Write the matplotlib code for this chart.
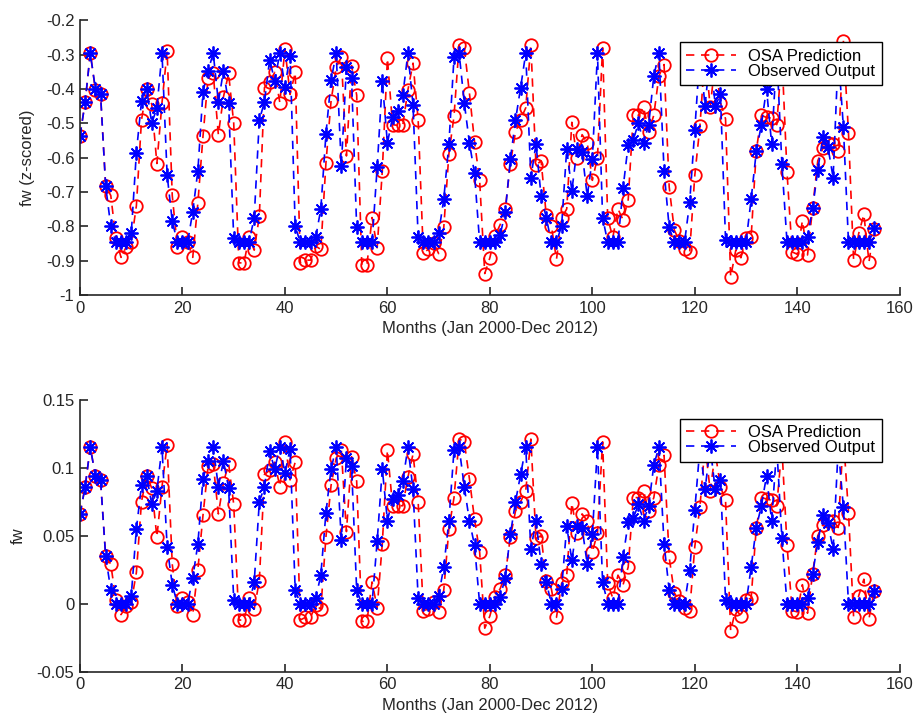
import numpy as np
import matplotlib
matplotlib.use('Agg')
from matplotlib import pyplot as plt

plt.rcParams['font.family'] = ['Liberation Sans', 'DejaVu Sans']

months = np.arange(156)

# fw (z-scored)
osa_z = [-0.536, -0.438, -0.296, -0.402, -0.414, -0.682, -0.710, -0.835, -0.890, -0.860,
         -0.845, -0.740, -0.490, -0.400, -0.445, -0.617, -0.440, -0.290, -0.710, -0.860,
         -0.830, -0.844, -0.890, -0.732, -0.538, -0.367, -0.355, -0.533, -0.423, -0.355,
         -0.500, -0.906, -0.906, -0.830, -0.869, -0.770, -0.396, -0.380, -0.352, -0.440,
         -0.283, -0.416, -0.352, -0.906, -0.898, -0.898, -0.857, -0.867, -0.615, -0.435,
         -0.337, -0.308, -0.595, -0.332, -0.418, -0.913, -0.913, -0.774, -0.862, -0.639,
         -0.311, -0.504, -0.506, -0.506, -0.403, -0.325, -0.490, -0.876, -0.867, -0.847,
         -0.879, -0.803, -0.589, -0.479, -0.272, -0.280, -0.411, -0.553, -0.666, -0.937,
         -0.891, -0.827, -0.795, -0.749, -0.617, -0.525, -0.489, -0.455, -0.271, -0.622,
         -0.609, -0.767, -0.798, -0.896, -0.776, -0.749, -0.497, -0.600, -0.533, -0.556,
         -0.666, -0.600, -0.280, -0.776, -0.832, -0.749, -0.781, -0.722, -0.476, -0.477,
         -0.452, -0.525, -0.476, -0.362, -0.329, -0.685, -0.811, -0.842, -0.865, -0.874,
         -0.651, -0.509, -0.290, -0.453, -0.320, -0.440, -0.487, -0.947, -0.869, -0.891,
         -0.835, -0.830, -0.580, -0.477, -0.483, -0.485, -0.504, -0.300, -0.643, -0.874,
         -0.881, -0.783, -0.883, -0.747, -0.609, -0.573, -0.556, -0.560, -0.580, -0.260,
         -0.528, -0.898, -0.820, -0.765, -0.903, -0.806]

obs_z = [-0.536, -0.438, -0.296, -0.400, -0.414, -0.682, -0.800, -0.846, -0.846, -0.846,
         -0.820, -0.585, -0.435, -0.400, -0.500, -0.455, -0.296, -0.650, -0.785, -0.846,
         -0.846, -0.846, -0.757, -0.638, -0.408, -0.347, -0.296, -0.438, -0.347, -0.442,
         -0.835, -0.846, -0.846, -0.846, -0.774, -0.490, -0.438, -0.315, -0.376, -0.296,
         -0.393, -0.303, -0.800, -0.846, -0.846, -0.846, -0.832, -0.749, -0.531, -0.375,
         -0.296, -0.625, -0.337, -0.369, -0.803, -0.846, -0.846, -0.846, -0.628, -0.378,
         -0.558, -0.482, -0.465, -0.418, -0.296, -0.447, -0.832, -0.846, -0.846, -0.846,
         -0.820, -0.720, -0.560, -0.308, -0.296, -0.440, -0.556, -0.646, -0.846, -0.846,
         -0.846, -0.846, -0.825, -0.759, -0.604, -0.491, -0.396, -0.296, -0.658, -0.560,
         -0.712, -0.774, -0.846, -0.846, -0.798, -0.575, -0.697, -0.575, -0.584, -0.712,
         -0.604, -0.296, -0.774, -0.846, -0.846, -0.846, -0.688, -0.562, -0.548, -0.499,
         -0.556, -0.504, -0.362, -0.296, -0.638, -0.803, -0.846, -0.846, -0.846, -0.730,
         -0.519, -0.296, -0.450, -0.296, -0.450, -0.416, -0.838, -0.846, -0.846, -0.846,
         -0.846, -0.720, -0.582, -0.504, -0.399, -0.560, -0.296, -0.619, -0.846, -0.846,
         -0.846, -0.846, -0.830, -0.747, -0.636, -0.540, -0.570, -0.658, -0.296, -0.510,
         -0.846, -0.846, -0.846, -0.846, -0.846, -0.805]

# fw
osa_fw = [0.066, 0.086, 0.115, 0.094, 0.091, 0.035, 0.029, 0.003, -0.008, -0.002,
          0.001, 0.023, 0.075, 0.094, 0.085, 0.049, 0.086, 0.117, 0.029, -0.002,
          0.004, 0.001, -0.008, 0.025, 0.065, 0.101, 0.103, 0.066, 0.089, 0.103,
          0.073, -0.012, -0.012, 0.004, -0.004, 0.017, 0.095, 0.098, 0.104, 0.086,
          0.119, 0.091, 0.104, -0.012, -0.010, -0.010, -0.001, -0.004, 0.049, 0.087,
          0.107, 0.113, 0.053, 0.108, 0.090, -0.013, -0.013, 0.016, -0.003, 0.044,
          0.113, 0.072, 0.072, 0.072, 0.093, 0.110, 0.075, -0.005, -0.004, 0.001,
          -0.006, 0.010, 0.055, 0.078, 0.121, 0.119, 0.092, 0.062, 0.038, -0.018,
          -0.009, 0.005, 0.011, 0.021, 0.049, 0.068, 0.075, 0.083, 0.121, 0.048,
          0.050, 0.017, 0.011, -0.010, 0.015, 0.021, 0.074, 0.052, 0.066, 0.061,
          0.038, 0.052, 0.119, 0.015, 0.004, 0.021, 0.014, 0.027, 0.078, 0.078,
          0.083, 0.068, 0.078, 0.102, 0.109, 0.034, 0.008, 0.002, -0.003, -0.005,
          0.042, 0.071, 0.117, 0.083, 0.111, 0.086, 0.076, -0.020, -0.004, -0.009,
          0.003, 0.004, 0.056, 0.078, 0.077, 0.076, 0.072, 0.115, 0.043, -0.005,
          -0.006, 0.014, -0.007, 0.022, 0.050, 0.058, 0.061, 0.061, 0.056, 0.123,
          0.067, -0.010, 0.006, 0.018, -0.011, 0.009]

obs_fw = [0.066, 0.086, 0.115, 0.094, 0.091, 0.035, 0.010, 0.000, 0.000, 0.000,
          0.006, 0.055, 0.087, 0.094, 0.073, 0.083, 0.115, 0.042, 0.014, 0.000,
          0.000, 0.000, 0.019, 0.044, 0.092, 0.105, 0.115, 0.086, 0.105, 0.085,
          0.003, 0.000, 0.000, 0.000, 0.016, 0.075, 0.086, 0.112, 0.099, 0.115,
          0.096, 0.114, 0.010, 0.000, 0.000, 0.000, 0.004, 0.021, 0.067, 0.099,
          0.115, 0.047, 0.107, 0.101, 0.010, 0.000, 0.000, 0.000, 0.046, 0.099,
          0.061, 0.077, 0.080, 0.090, 0.115, 0.084, 0.004, 0.000, 0.000, 0.000,
          0.006, 0.027, 0.061, 0.113, 0.115, 0.086, 0.061, 0.043, 0.000, 0.000,
          0.000, 0.000, 0.005, 0.019, 0.051, 0.075, 0.095, 0.115, 0.040, 0.061,
          0.029, 0.016, 0.000, 0.000, 0.011, 0.057, 0.032, 0.057, 0.056, 0.029,
          0.051, 0.115, 0.016, 0.000, 0.000, 0.000, 0.034, 0.060, 0.063, 0.073,
          0.061, 0.072, 0.102, 0.115, 0.044, 0.010, 0.000, 0.000, 0.000, 0.025,
          0.069, 0.115, 0.084, 0.115, 0.084, 0.091, 0.003, 0.000, 0.000, 0.000,
          0.000, 0.027, 0.056, 0.072, 0.094, 0.061, 0.115, 0.048, 0.000, 0.000,
          0.000, 0.000, 0.004, 0.022, 0.045, 0.065, 0.059, 0.040, 0.115, 0.071,
          0.000, 0.000, 0.000, 0.000, 0.000, 0.009]

xlabel = 'Months (Jan 2000-Dec 2012)'
labels = ['OSA Prediction', 'Observed Output']

fig = plt.figure(figsize=(9.21, 7.2), dpi=100)
ax1 = fig.add_axes([0.0869, 0.590, 0.890, 0.382])
ax2 = fig.add_axes([0.0869, 0.067, 0.890, 0.378])

asterisk = (8, 2, 0)


def draw(ax, osa, obs, ylabel, ylim, yticks, yticklabels, legend_top):
    ax.plot(months, osa, '--', color='red', marker='o', markersize=9,
            markerfacecolor='none', markeredgewidth=1.3, linewidth=1.2,
            dashes=(5, 4), label=labels[0])
    ax.plot(months, obs, '--', color='blue', marker=asterisk, markersize=10,
            markeredgewidth=1.3, linewidth=1.2, dashes=(5, 4), label=labels[1])
    ax.set_xlim(0, 160)
    ax.set_ylim(*ylim)
    ax.set_xticks(range(0, 161, 20))
    ax.set_yticks(yticks)
    ax.set_yticklabels(yticklabels)
    ax.set_xlabel(xlabel, fontsize=12, color='#262626', labelpad=4)
    ax.set_ylabel(ylabel, fontsize=12, color='#262626', labelpad=8)
    ax.spines['top'].set_visible(False)
    ax.spines['right'].set_visible(False)
    for s in ['left', 'bottom']:
        ax.spines[s].set_linewidth(1.2)
        ax.spines[s].set_color('#262626')
    ax.tick_params(direction='in', length=6, width=1.2, labelsize=12,
                   colors='#262626', pad=4)
    leg = ax.legend(loc='upper right', bbox_to_anchor=(0.978, legend_top),
                    fontsize=12, handlelength=3.0, borderpad=0.4,
                    labelspacing=0.0, handletextpad=0.7, borderaxespad=0,
                    fancybox=False, framealpha=1, edgecolor='black')
    leg.get_frame().set_linewidth(1.0)


draw(ax1, osa_z, obs_z, 'fw (z-scored)', (-1, -0.2),
     np.round(np.arange(-1, -0.15, 0.1), 1),
     ['-1', '-0.9', '-0.8', '-0.7', '-0.6', '-0.5', '-0.4', '-0.3', '-0.2'],
     0.921)
draw(ax2, osa_fw, obs_fw, 'fw', (-0.05, 0.15),
     [-0.05, 0, 0.05, 0.1, 0.15],
     ['-0.05', '0', '0.05', '0.1', '0.15'],
     0.930)

fig.savefig('out.png', dpi=100)
